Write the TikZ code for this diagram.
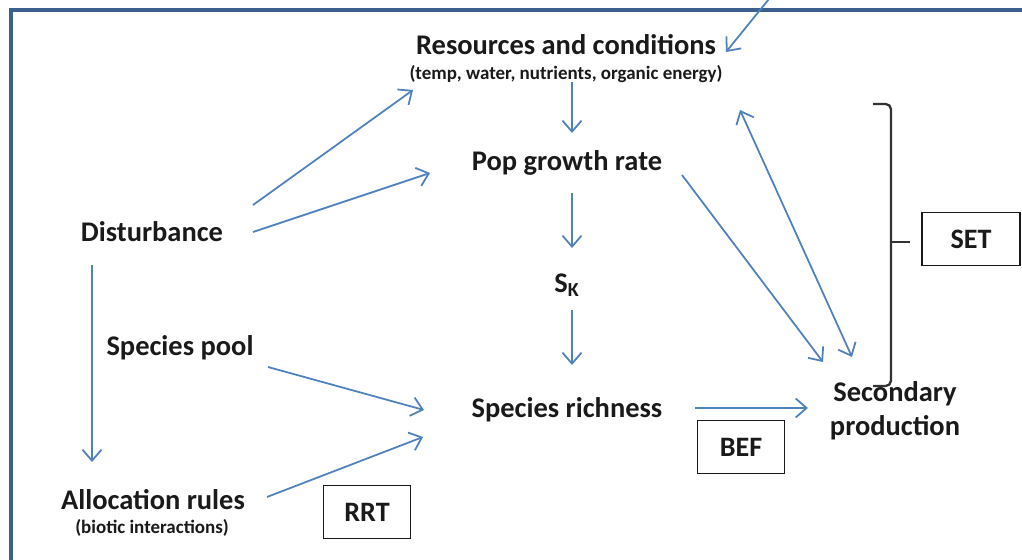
\documentclass[tikz,border=0pt]{standalone}
\usepackage{fontspec}
\setmainfont{Carlito}
\usetikzlibrary{arrows.meta,calc}
\definecolor{arrblue}{HTML}{4F81BD}
\definecolor{frameblue}{HTML}{3C5F8E}
\definecolor{ink}{HTML}{1A1A1A}
\begin{document}
\begin{tikzpicture}[x=0.02cm,y=-0.02cm,
  lab/.style={font=\bfseries\fontsize{16.2}{19}\selectfont, text=ink, inner sep=0pt},
  small/.style={font=\bfseries\fontsize{10.8}{12}\selectfont, text=ink, inner sep=0pt},
  arr/.style={draw=arrblue, line width=1pt, -{Straight Barb[length=2.2mm,width=3.8mm,line width=1pt]}},
  darr/.style={draw=arrblue, line width=1pt, {Straight Barb[length=2.2mm,width=3.8mm,line width=1pt]}-{Straight Barb[length=2.2mm,width=3.8mm,line width=1pt]}},
  tbox/.style={draw=ink, line width=1.1pt, font=\bfseries\fontsize{16}{19}\selectfont, text=ink, minimum height=1.06cm, minimum width=1.74cm, inner sep=0pt},
  brk/.style={draw=black!80, line width=1.3pt, rounded corners=3pt}]
\useasboundingbox (0,0) rectangle (1022,560);
\clip (0,0) rectangle (1022,560);
\fill[white] (0,0) rectangle (1022,560);
\draw[frameblue, line width=2pt] (11,10) rectangle (1080,620);

% nodes
\node[lab] (res) at (566,45) {Resources and conditions};
\node[small] (resd) at (566,74) {(temp, water, nutrients, organic energy)};
\node[lab] (pop) at (567,163) {Pop growth rate};
\node[lab] (sk) at (567,285) {S\textsubscript{K}};
\node[lab] (rich) at (567,410) {Species richness};
\node[lab, align=center, font=\bfseries\fontsize{16.2}{19.5}\selectfont] (sec) at (895,411) {Secondary\\production};
\node[lab] (dist) at (152,232) {Disturbance};
\node[lab] (pool) at (180,348) {Species pool};
\node[lab] (alloc) at (153,500) {Allocation rules};
\node[small] (allocd) at (152,528) {(biotic interactions)};
\node[tbox] (bef) at (741,447) {BEF};
\node[tbox] (rrt) at (367,512) {RRT};
\node[tbox, minimum width=1.96cm] (set) at (971,239) {SET};
\coordinate (topin) at (773,-6);

% connectors
\draw[arr] (topin) -- ([shift={(160,7)}]res.center);
\draw[arr] ([shift={(6,37)}]res.center) -- ([shift={(5,-30)}]pop.center);
\draw[arr] ([shift={(5,30)}]pop.center) -- ([shift={(5,-37)}]sk.center);
\draw[arr] ([shift={(5,25)}]sk.center) -- ([shift={(5,-45)}]rich.center);
\draw[arr] ([shift={(128,-2)}]rich.center) -- ([shift={(-87,-3)}]sec.center);
\draw[arr] ([shift={(115,12)}]pop.center) -- ([shift={(-72,-49)}]sec.center);
\draw[darr] ([shift={(174,65)}]res.center) -- ([shift={(-43,-54)}]sec.center);
\draw[arr] ([shift={(101,-27)}]dist.center) -- ([shift={(-153,45)}]res.center);
\draw[arr] ([shift={(101,0)}]dist.center) -- ([shift={(-137,10)}]pop.center);
\draw[arr] ([shift={(-60,33)}]dist.center) -- ([shift={(-61,-38)}]alloc.center);
\draw[arr] ([shift={(88,19)}]pool.center) -- ([shift={(-143,0)}]rich.center);
\draw[arr] ([shift={(114,-3)}]alloc.center) -- ([shift={(-144,27)}]rich.center);

% bracket
\draw[brk] (873,104) -- (891,104) -- (891,386) -- (873,386);
\draw[brk] (891,242) -- (910,242);
\end{tikzpicture}
\end{document}
